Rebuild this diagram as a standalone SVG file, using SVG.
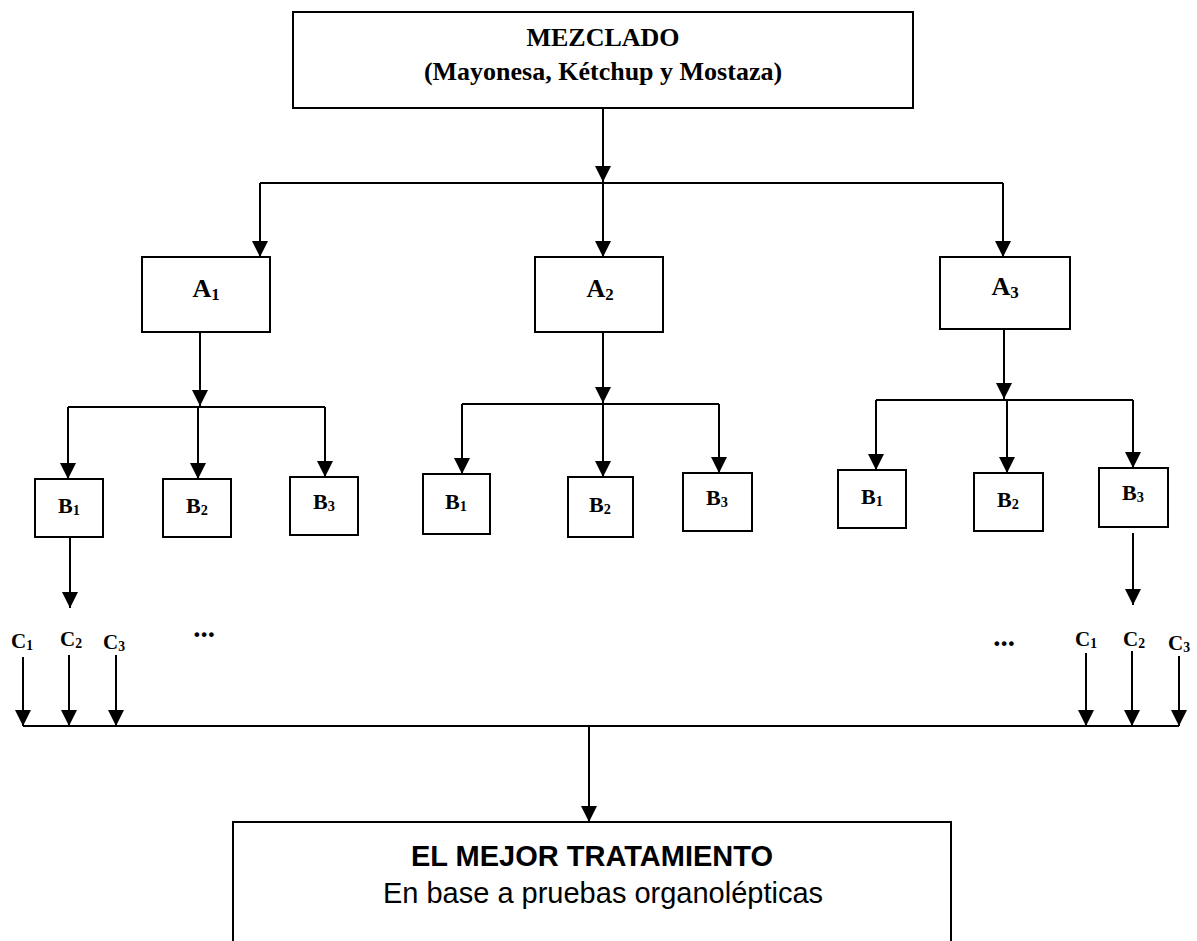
<svg xmlns="http://www.w3.org/2000/svg" width="1197" height="941" viewBox="0 0 1197 941">
  <style>
    .box { fill: #ffffff; stroke: #000000; stroke-width: 2; }
    .wire { fill: none; stroke: #000000; stroke-width: 2; }
    .ser { font-family: "Liberation Serif", "Times New Roman", serif; font-weight: bold; fill: #000000; }
    .sans { font-family: "Liberation Sans", Arial, sans-serif; fill: #000000; }
    .lbl { font-size: 26px; text-anchor: middle; }
    .lblB { font-size: 22px; text-anchor: middle; }
    .lblC { font-size: 21px; text-anchor: middle; }
    .dots { font-size: 29px; text-anchor: middle; }
    .sub { font-size: 0.65em; }
  </style>
  <defs>
    <marker id="arrow" viewBox="0 0 16 16" refX="16" refY="8" markerWidth="16" markerHeight="16" markerUnits="userSpaceOnUse" orient="auto">
      <path d="M0,0 L16,8 L0,16 Z" fill="#000000"/>
    </marker>
  </defs>

  <rect width="1197" height="941" fill="#ffffff"/>

  <!-- connectors -->
  <g id="connectors" class="wire">
    <line x1="603" y1="108" x2="603" y2="182" marker-end="url(#arrow)"/>
    <polyline points="260,183 1003,183"/>
    <line x1="260" y1="183" x2="260" y2="257" marker-end="url(#arrow)"/>
    <line x1="603" y1="183" x2="603" y2="257" marker-end="url(#arrow)"/>
    <line x1="1003" y1="183" x2="1003" y2="257" marker-end="url(#arrow)"/>

    <!-- A1 branch -->
    <line x1="200" y1="332" x2="200" y2="406" marker-end="url(#arrow)"/>
    <polyline points="68,407 325,407"/>
    <line x1="68" y1="407" x2="68" y2="479" marker-end="url(#arrow)"/>
    <line x1="198" y1="407" x2="198" y2="479" marker-end="url(#arrow)"/>
    <line x1="325" y1="407" x2="325" y2="477" marker-end="url(#arrow)"/>

    <!-- A2 branch -->
    <line x1="603" y1="332" x2="603" y2="403" marker-end="url(#arrow)"/>
    <polyline points="462,404 719,404"/>
    <line x1="462" y1="404" x2="462" y2="474" marker-end="url(#arrow)"/>
    <line x1="603" y1="404" x2="603" y2="477" marker-end="url(#arrow)"/>
    <line x1="719" y1="404" x2="719" y2="473" marker-end="url(#arrow)"/>

    <!-- A3 branch -->
    <line x1="1004" y1="329" x2="1004" y2="399" marker-end="url(#arrow)"/>
    <polyline points="876,400 1133,400"/>
    <line x1="876" y1="400" x2="876" y2="470" marker-end="url(#arrow)"/>
    <line x1="1007" y1="400" x2="1007" y2="473" marker-end="url(#arrow)"/>
    <line x1="1133" y1="400" x2="1133" y2="468" marker-end="url(#arrow)"/>

    <!-- B outputs -->
    <line x1="70" y1="537" x2="70" y2="608" marker-end="url(#arrow)"/>
    <line x1="1133" y1="533" x2="1133" y2="605" marker-end="url(#arrow)"/>

    <!-- C arrows into collector -->
    <line x1="23" y1="657" x2="23" y2="726" marker-end="url(#arrow)"/>
    <line x1="69" y1="655" x2="69" y2="726" marker-end="url(#arrow)"/>
    <line x1="116" y1="655" x2="116" y2="726" marker-end="url(#arrow)"/>
    <line x1="1086" y1="653" x2="1086" y2="726" marker-end="url(#arrow)"/>
    <line x1="1132" y1="651" x2="1132" y2="726" marker-end="url(#arrow)"/>
    <line x1="1179" y1="656" x2="1179" y2="726" marker-end="url(#arrow)"/>
    <polyline points="23,726 1179,726"/>

    <line x1="589" y1="726" x2="589" y2="822" marker-end="url(#arrow)"/>
  </g>

  <!-- top node -->
  <g id="mezclado">
    <rect class="box" x="293" y="12" width="620" height="96"/>
    <text class="ser lbl" x="603" y="46">MEZCLADO</text>
    <text class="ser lbl" x="603" y="80">(Mayonesa, Kétchup y Mostaza)</text>
  </g>

  <g id="a1">
    <rect class="box" x="142" y="257" width="128" height="75"/>
    <text class="ser lbl" x="206" y="297">A<tspan class="sub" dy="3">1</tspan></text>
  </g>
  <g id="a2">
    <rect class="box" x="535" y="257" width="128" height="75"/>
    <text class="ser lbl" x="600" y="297">A<tspan class="sub" dy="3">2</tspan></text>
  </g>
  <g id="a3">
    <rect class="box" x="940" y="257" width="130" height="72"/>
    <text class="ser lbl" x="1005" y="295">A<tspan class="sub" dy="3">3</tspan></text>
  </g>

  <!-- B nodes, left group -->
  <g id="b1-left">
    <rect class="box" x="35" y="479" width="68" height="58"/>
    <text class="ser lblB" x="69" y="513">B<tspan class="sub" dy="2">1</tspan></text>
  </g>
  <g id="b2-left">
    <rect class="box" x="163" y="479" width="68" height="58"/>
    <text class="ser lblB" x="197" y="513">B<tspan class="sub" dy="2">2</tspan></text>
  </g>
  <g id="b3-left">
    <rect class="box" x="290" y="477" width="68" height="58"/>
    <text class="ser lblB" x="324" y="509">B<tspan class="sub" dy="2">3</tspan></text>
  </g>

  <!-- B nodes, middle group -->
  <g id="b1-mid">
    <rect class="box" x="423" y="474" width="67" height="60"/>
    <text class="ser lblB" x="456" y="509">B<tspan class="sub" dy="2">1</tspan></text>
  </g>
  <g id="b2-mid">
    <rect class="box" x="568" y="477" width="65" height="60"/>
    <text class="ser lblB" x="600" y="512">B<tspan class="sub" dy="2">2</tspan></text>
  </g>
  <g id="b3-mid">
    <rect class="box" x="683" y="473" width="69" height="58"/>
    <text class="ser lblB" x="717" y="505">B<tspan class="sub" dy="2">3</tspan></text>
  </g>

  <!-- B nodes, right group -->
  <g id="b1-right">
    <rect class="box" x="838" y="470" width="68" height="58"/>
    <text class="ser lblB" x="872" y="504">B<tspan class="sub" dy="2">1</tspan></text>
  </g>
  <g id="b2-right">
    <rect class="box" x="974" y="473" width="69" height="58"/>
    <text class="ser lblB" x="1008" y="507">B<tspan class="sub" dy="2">2</tspan></text>
  </g>
  <g id="b3-right">
    <rect class="box" x="1099" y="468" width="69" height="59"/>
    <text class="ser lblB" x="1133" y="500">B<tspan class="sub" dy="2">3</tspan></text>
  </g>

  <!-- C labels and ellipses -->
  <g id="c-left">
    <text class="ser lblC" x="22" y="648">C<tspan class="sub" dy="2">1</tspan></text>
    <text class="ser lblC" x="71" y="646">C<tspan class="sub" dy="2">2</tspan></text>
    <text class="ser lblC" x="114" y="649">C<tspan class="sub" dy="2">3</tspan></text>
    <text class="ser dots" x="204" y="637">...</text>
  </g>
  <g id="c-right">
    <text class="ser dots" x="1004" y="646">...</text>
    <text class="ser lblC" x="1086" y="646">C<tspan class="sub" dy="2">1</tspan></text>
    <text class="ser lblC" x="1134" y="646">C<tspan class="sub" dy="2">2</tspan></text>
    <text class="ser lblC" x="1179" y="650">C<tspan class="sub" dy="2">3</tspan></text>
  </g>

  <!-- result node -->
  <g id="mejor-tratamiento">
    <rect class="box" x="233" y="822" width="718" height="140"/>
    <text class="sans" x="592" y="866" font-size="29" font-weight="bold" text-anchor="middle">EL MEJOR TRATAMIENTO</text>
    <text class="sans" x="603" y="903" font-size="29" text-anchor="middle">En base a pruebas organolépticas</text>
  </g>
</svg>
